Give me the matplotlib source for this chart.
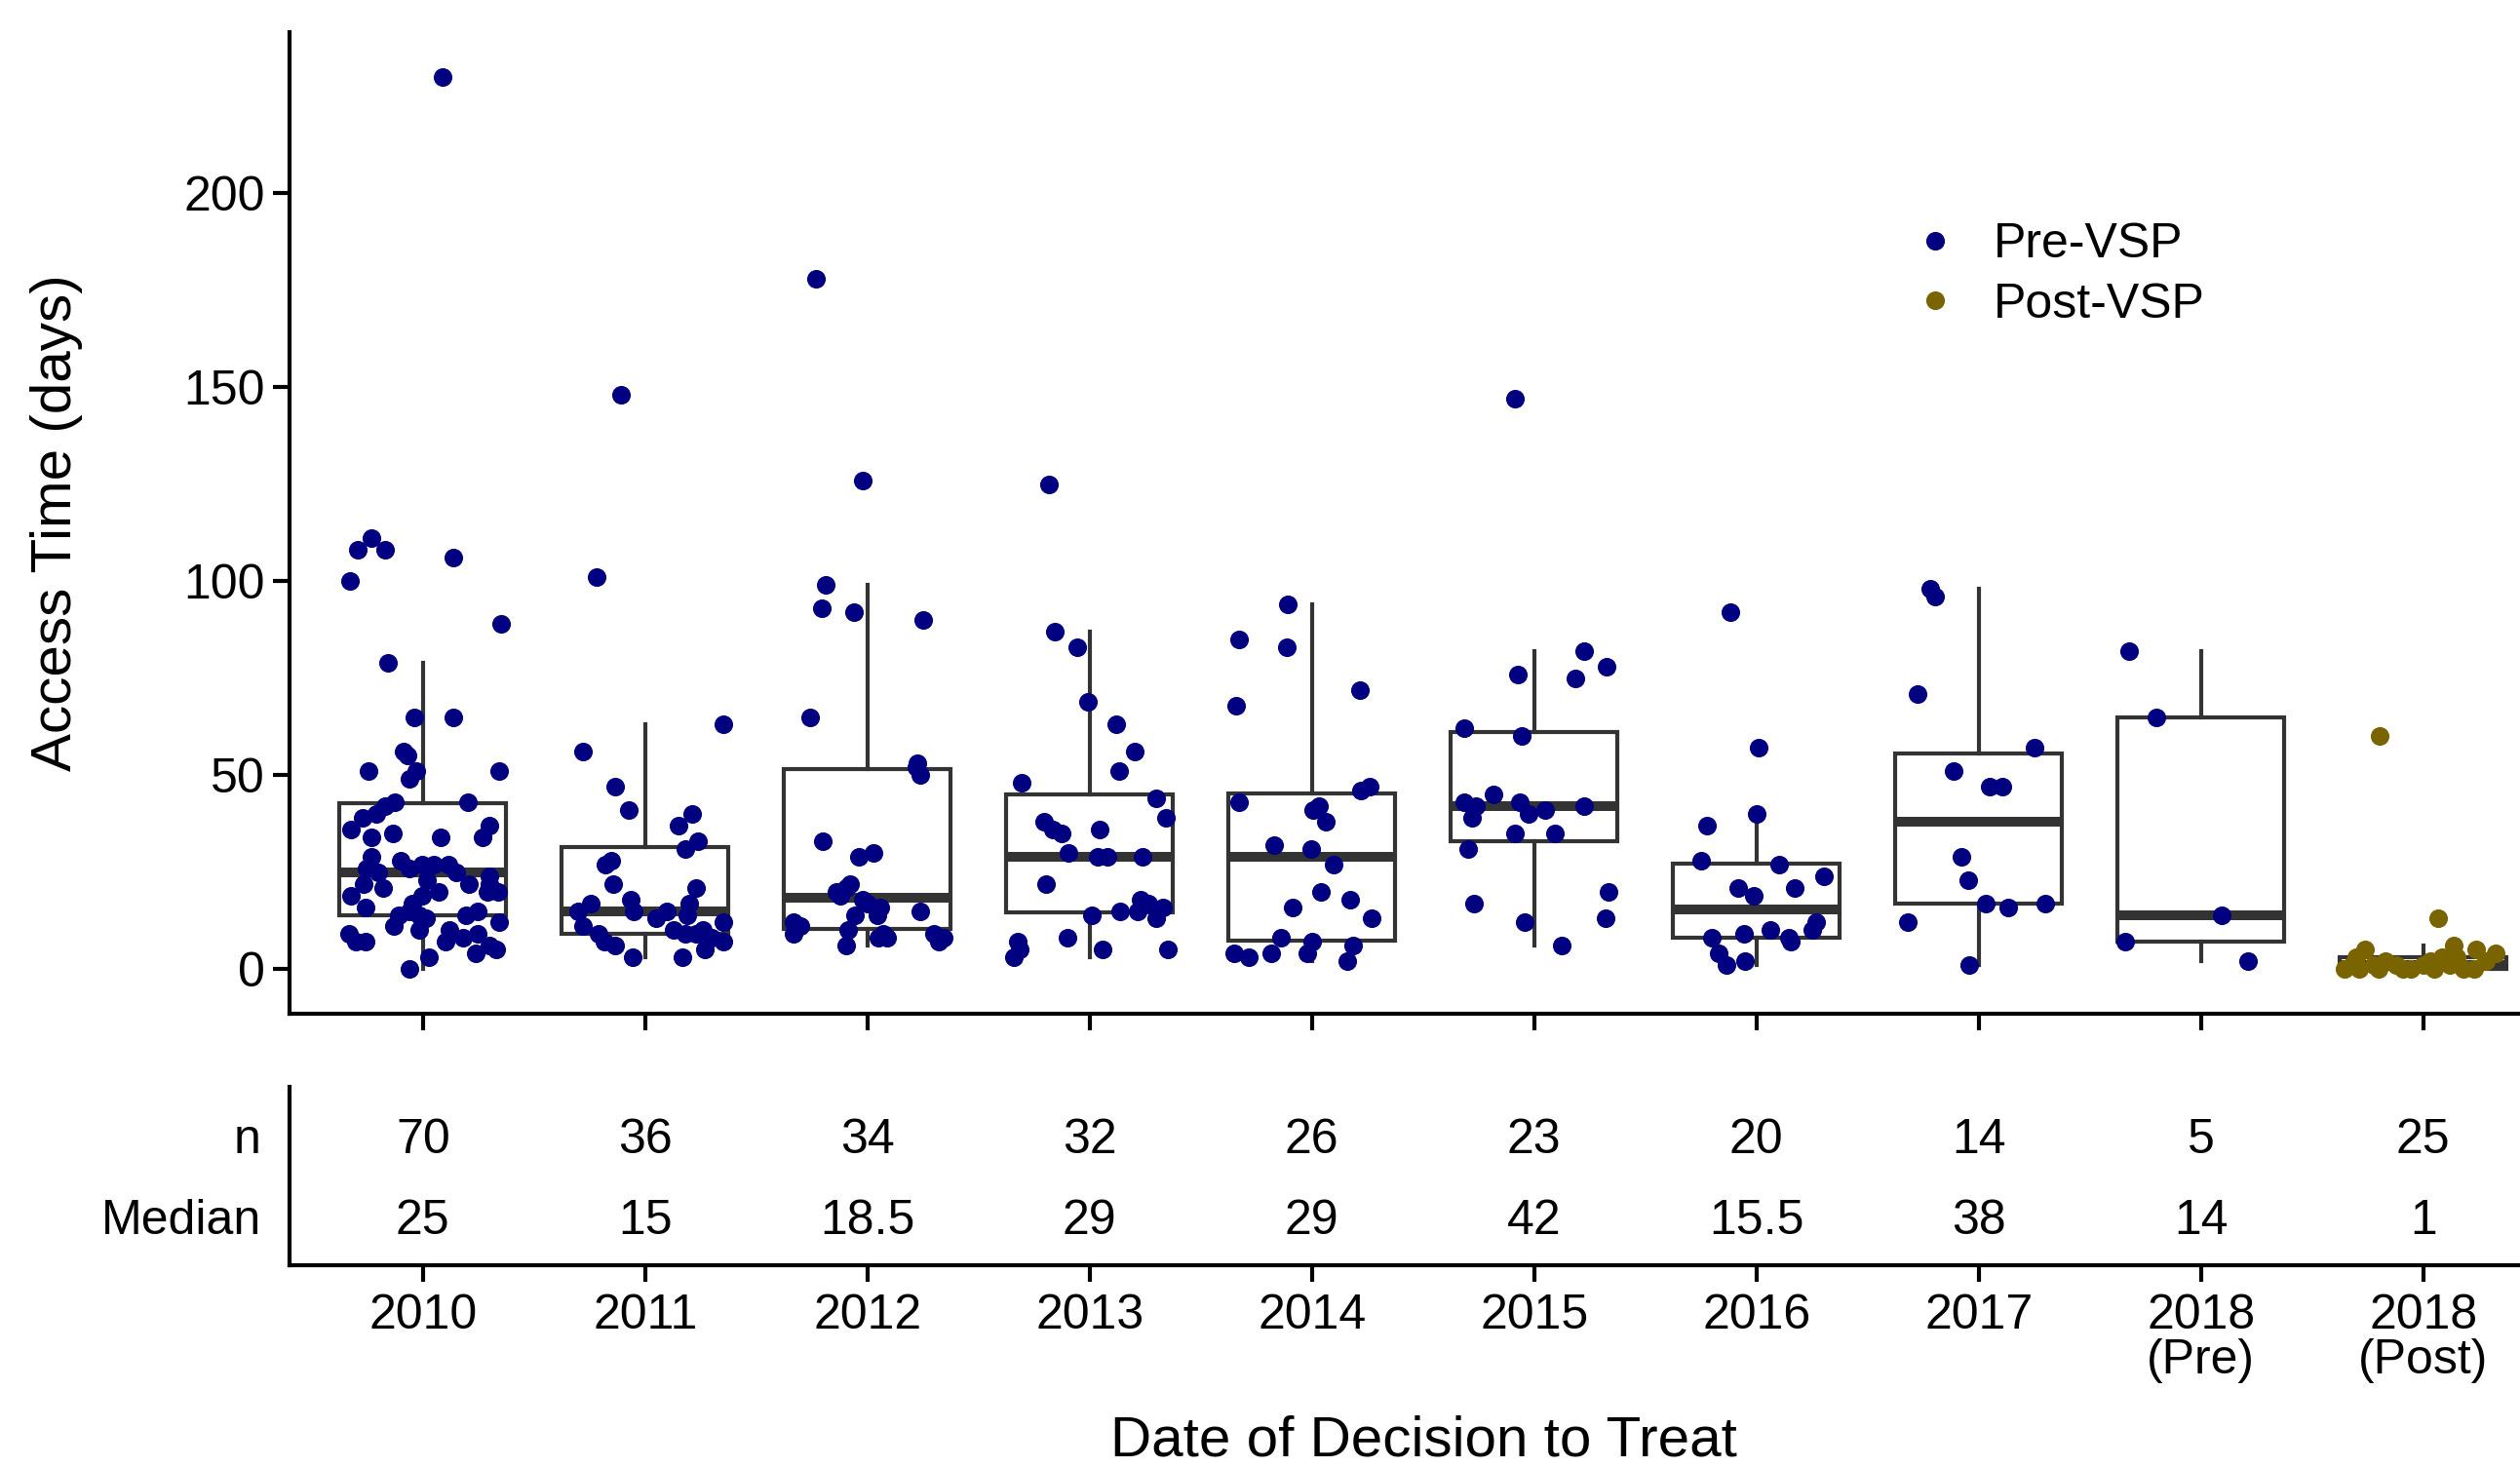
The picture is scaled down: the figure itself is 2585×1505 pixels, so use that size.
#!/usr/bin/env python3
# -*- coding: utf-8 -*-
"""
Access time by year of decision to treat: jittered points over box plots,
with a small table of n and median underneath.
"""

import numpy as np
import matplotlib
matplotlib.use("Agg")
import matplotlib.pyplot as plt
from matplotlib.lines import Line2D

# ---- data (days), with the horizontal jitter ----
groups = ["2010", "2011", "2012", "2013", "2014", "2015", "2016", "2017",
          "2018\n(Pre)", "2018\n(Post)"]

vals_2010 = [230, 111, 108, 108, 100, 106, 89, 79, 65, 65, 56, 55, 51, 51, 49, 51,
             43, 43, 42, 40, 39, 36, 37, 34, 34, 35, 34, 29, 28, 26, 26, 27, 27, 27,
             22, 21, 23, 20, 22, 22, 20, 20, 19, 19, 16, 17, 14, 14, 14, 15, 15, 13,
             12, 10, 9, 7, 7, 10, 7, 8, 9, 6, 4, 3, 0, 25, 25, 24, 11, 5]
jit_2010 = [0.087, -0.23, -0.295, -0.17, -0.33, 0.136, 0.35, -0.157, -0.04, 0.136,
            -0.088, -0.069, -0.244, -0.03, -0.06, 0.345, -0.127, 0.202, -0.17, -0.208,
            -0.269, -0.325, 0.301, 0.268, -0.23, -0.137, 0.078, -0.23, -0.1, -0.252,
            -0.06, -0.003, 0.048, 0.114, -0.266, -0.178, 0.019, 0.07, 0.209, 0.297,
            0.29, 0.34, -0.325, -0.003, -0.259, -0.047, -0.018, -0.108, 0.194, 0.246,
            -0.06, 0.012, 0.345, -0.018, -0.331, -0.303, -0.259, 0.121, 0.1, 0.18,
            0.246, 0.297, 0.238, 0.026, -0.06, -0.2, 0.15, 0.3, -0.13, 0.33]

vals_2011 = [148, 101, 63, 56, 47, 41, 40, 37, 33, 31, 28, 27, 22, 21, 18, 17, 17,
             15, 15, 14, 12, 10, 10, 9, 9, 9, 7, 7, 6, 3, 3, 15, 8, 11, 13, 5]
jit_2011 = [-0.11, -0.22, 0.35, -0.28, -0.137, -0.075, 0.21, 0.15, 0.24, 0.18,
            -0.152, -0.177, -0.143, 0.23, -0.067, 0.2, -0.243, -0.3, 0.096, 0.19,
            0.35, 0.13, 0.26, -0.21, 0.18, 0.23, -0.184, 0.35, -0.133, -0.056, 0.167,
            -0.05, 0.3, -0.28, 0.05, 0.27]

vals_2012 = [178, 126, 99, 93, 92, 90, 65, 53, 50, 33, 29, 30, 20, 21, 18, 14, 14,
             16, 15, 12, 9, 10, 6, 8, 8, 9, 8, 7, 9, 11, 17, 19, 22, 52]
jit_2012 = [-0.23, -0.02, -0.187, -0.205, -0.061, 0.249, -0.259, 0.224, 0.238, -0.2,
            -0.037, 0.026, -0.139, -0.095, -0.022, -0.058, 0.044, 0.056, 0.238, -0.333,
            -0.333, -0.088, -0.095, 0.051, 0.088, 0.3, 0.343, 0.32, 0.07, -0.3, 0.0,
            -0.12, -0.08, 0.22]

vals_2013 = [125, 87, 83, 69, 63, 56, 51, 48, 39, 38, 36, 35, 36, 30, 29, 29, 29,
             22, 18, 17, 16, 15, 15, 14, 13, 7, 8, 3, 5, 5, 5, 44]
jit_2013 = [-0.184, -0.158, -0.054, -0.009, 0.121, 0.202, 0.132, -0.306, 0.342,
            -0.203, -0.167, -0.126, 0.044, -0.096, 0.038, 0.082, 0.238, -0.196, 0.228,
            0.265, 0.33, 0.214, 0.137, 0.009, 0.301, -0.323, -0.101, -0.342, -0.313,
            0.06, 0.352, 0.3]

vals_2014 = [94, 85, 83, 72, 68, 47, 46, 43, 42, 41, 38, 32, 31, 27, 20, 18, 16, 13,
             8, 7, 6, 4, 3, 4, 4, 2]
jit_2014 = [-0.107, -0.329, -0.111, 0.218, -0.341, 0.259, 0.219, -0.329, 0.032,
            0.006, 0.064, -0.168, -0.004, 0.098, 0.039, 0.174, -0.085, 0.269, -0.14,
            0.003, 0.186, -0.348, -0.282, -0.184, -0.023, 0.159]

vals_2015 = [147, 82, 78, 76, 75, 62, 60, 45, 43, 42, 43, 42, 39, 40, 35, 35, 31, 20,
             17, 13, 12, 6, 41]
jit_2015 = [-0.087, 0.227, 0.326, -0.072, 0.187, -0.314, -0.054, -0.181, -0.314,
            -0.263, -0.064, 0.227, -0.278, -0.025, -0.088, 0.095, -0.295, 0.333,
            -0.269, 0.321, -0.044, 0.126, 0.05]

vals_2016 = [92, 57, 37, 40, 24, 21, 19, 21, 12, 9, 10, 8, 7, 4, 1, 2, 8, 10, 27, 28]
jit_2016 = [-0.118, 0.01, -0.221, 0.003, 0.306, -0.082, -0.013, 0.174, 0.269, -0.057,
            0.061, 0.145, 0.155, -0.172, -0.133, -0.05, -0.2, 0.25, 0.1, -0.25]

vals_2017 = [98, 96, 71, 51, 47, 47, 29, 23, 17, 16, 12, 1, 17, 57]
jit_2017 = [-0.219, -0.197, -0.273, -0.113, 0.048, 0.107, -0.076, -0.048, 0.032,
            0.132, -0.319, -0.044, 0.3, 0.25]

vals_2018_pre = [82, 65, 14, 7, 2]
jit_2018_pre = [-0.323, -0.199, 0.093, -0.342, 0.21]

vals_2018_post = [60, 13, 5, 5, 6, 4, 3, 3, 3, 2, 2, 2, 1, 1, 1, 1, 1,
                  0, 0, 0, 0, 0, 0, 0, 0]
jit_2018_post = [-0.194, 0.066, -0.26, 0.237, 0.137, 0.325, 0.149, 0.083, -0.3,
                 0.032, 0.28, -0.17, -0.319, -0.224, -0.121, 0.12, 0.0,
                 -0.355, -0.056, 0.23, -0.29, -0.09, 0.18, 0.05, -0.2]

values = [vals_2010, vals_2011, vals_2012, vals_2013, vals_2014, vals_2015,
          vals_2016, vals_2017, vals_2018_pre, vals_2018_post]
jitter = [jit_2010, jit_2011, jit_2012, jit_2013, jit_2014, jit_2015,
          jit_2016, jit_2017, jit_2018_pre, jit_2018_post]
phase = ["Pre-VSP"] * 9 + ["Post-VSP"]

PRE_COL = "#000080"
POST_COL = "#7a6400"
BOX_COL = "#333333"

plt.rcParams['font.family'] = ['Liberation Sans', 'DejaVu Sans']
plt.rcParams['font.size'] = 12

W, H = 2586, 1505
fig = plt.figure(figsize=(W / 300, H / 300), dpi=300)

# main panel
ax = fig.add_axes([297 / W, 1 - 1040 / H, 1 - 297 / W, (1040 - 33) / H])
pos = np.arange(len(groups))
ax.boxplot(values, positions=pos, widths=0.75, whis=1.5, showcaps=False,
           showfliers=False, patch_artist=True, manage_ticks=False,
           boxprops=dict(facecolor='white', edgecolor=BOX_COL, linewidth=1.0),
           whiskerprops=dict(color=BOX_COL, linewidth=1.0),
           medianprops=dict(color=BOX_COL, linewidth=2.4, solid_capstyle='butt'))
for i, (v, j) in enumerate(zip(values, jitter)):
    col = PRE_COL if phase[i] == "Pre-VSP" else POST_COL
    ax.scatter(i + np.array(j), v, s=21, color=col, linewidths=0, zorder=3)

ax.set_xlim(-0.6, 9.44)
ax.set_ylim(-11.5, 241.5)
ax.set_yticks([0, 50, 100, 150, 200])
ax.set_xticks(pos)
ax.set_xticklabels([])
for s in ['top', 'right']:
    ax.spines[s].set_visible(False)
for s in ['left', 'bottom']:
    ax.spines[s].set_linewidth(1.0)
ax.tick_params(axis='both', length=4, width=1.0, labelsize=12, pad=2)

# n / median table
tb = fig.add_axes([297 / W, 1 - 1298 / H, 1 - 297 / W, (1298 - 1115) / H])
tb.set_xlim(-0.6, 9.44)
tb.set_ylim(0.4, 2.6)
for i, v in enumerate(values):
    tb.text(i, 2, str(len(v)), ha='center', va='center_baseline', fontsize=12)
    tb.text(i, 1, '{:g}'.format(np.median(v)), ha='center', va='center_baseline',
            fontsize=12)
tb.set_yticks([1, 2])
tb.set_yticklabels(['Median', 'n'])
tb.set_xticks(pos)
tb.set_xticklabels(groups)
for lab in tb.get_xticklabels():
    lab.set_linespacing(1.0)
for s in ['top', 'right']:
    tb.spines[s].set_visible(False)
for s in ['left', 'bottom']:
    tb.spines[s].set_linewidth(1.0)
tb.tick_params(axis='y', length=0, pad=7, labelsize=12)
tb.tick_params(axis='x', length=4, width=1.0, pad=3, labelsize=12)

# axis titles
fig.text(1460 / W, 1 - 1479 / H, 'Date of Decision to Treat', ha='center',
         va='center', fontsize=14)
fig.text(58 / W, 1 - 536 / H, 'Access Time (days)', rotation=90, ha='center',
         va='center', fontsize=14)

# legend
handles = [Line2D([], [], marker='o', linestyle='', color=PRE_COL, markersize=4.6,
                  markeredgewidth=0),
           Line2D([], [], marker='o', linestyle='', color=POST_COL, markersize=4.6,
                  markeredgewidth=0)]
fig.legend(handles, ['Pre-VSP', 'Post-VSP'], loc='center left',
           bbox_to_anchor=(0.758, 1 - 282 / H), frameon=False, handlelength=1.0,
           handletextpad=0.7, borderpad=0, borderaxespad=0, labelspacing=0.3,
           fontsize=12)

fig.savefig('out.png', dpi=300)
plt.close(fig)
